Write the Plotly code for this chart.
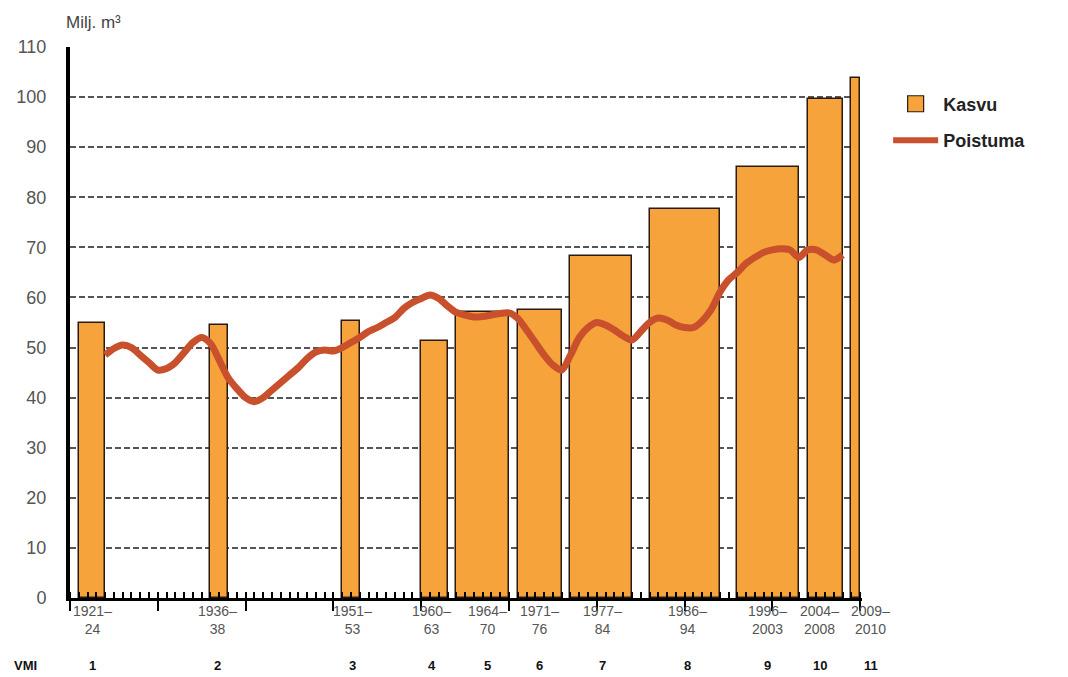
import plotly.graph_objects as go

# Inventory periods (VMI 1-11)
period_start = [1921, 1936, 1951, 1960, 1964, 1971, 1977, 1986, 1996, 2004, 2009]
period_end = [1924, 1938, 1953, 1963, 1970, 1976, 1984, 1994, 2003, 2008, 2010]
period_labels = ["1921–<br>24", "1936–<br>38", "1951–<br>53", "1960–<br>63", "1964–<br>70",
                 "1971–<br>76", "1977–<br>84", "1986–<br>94", "1996–<br>2003", "2004–<br>2008",
                 "2009–<br>2010"]
vmi_labels = ["1", "2", "3", "4", "5", "6", "7", "8", "9", "10", "11"]
label_x = [1922.6, 1936.8, 1952.2, 1961.2, 1967.6, 1973.5, 1980.6, 1990.3, 1999.4, 2005.4, 2011.2]

# Kasvu (increment), million m3
kasvu = [55.0, 54.5, 55.3, 51.3, 57.0, 57.5, 68.3, 77.6, 86.0, 99.6, 103.8]

# Poistuma (drain), million m3, yearly 1924-2008
years = list(range(1924, 2009))
poistuma = [48.5, 49.8, 50.5, 50.0, 48.5, 47.0, 45.5, 45.8, 47.0, 49.0,
            51.0, 52.0, 50.8, 47.5, 44.0, 41.8, 40.0, 39.2, 40.0, 41.5,
            43.0, 44.5, 46.0, 47.8, 49.1, 49.5, 49.3, 50.0, 51.0, 52.0,
            53.2, 54.0, 55.0, 56.0, 57.8, 59.0, 59.8, 60.5, 59.8, 58.3,
            57.0, 56.5, 56.1, 56.2, 56.5, 56.8, 56.9, 55.8, 53.5, 51.0,
            48.5, 46.5, 45.5, 48.5, 52.0, 54.0, 55.0, 54.5, 53.5, 52.3,
            51.5, 53.2, 55.0, 55.9, 55.5, 54.5, 54.0, 54.0, 55.3, 57.5,
            61.0, 63.5, 65.0, 66.8, 68.0, 69.0, 69.5, 69.7, 69.5, 68.0,
            69.5, 69.5, 68.5, 67.5, 68.5]

y_ticks = list(range(0, 111, 10))

FONT = "Liberation Sans, Arial, sans-serif"
BAR_COLOR = "#f7a33b"
BAR_EDGE = "#2b1a10"
LINE_COLOR = "#c8502c"
X_RANGE = [1920, 2010.2]

bar_x = [(s + e) / 2 for s, e in zip(period_start, period_end)]
bar_w = [e - s for s, e in zip(period_start, period_end)]

fig = go.Figure()
fig.add_trace(go.Bar(
    x=bar_x, y=kasvu, width=bar_w, name="Kasvu", showlegend=False,
    marker=dict(color=BAR_COLOR, line=dict(color=BAR_EDGE, width=1.5)),
))
fig.add_trace(go.Scatter(
    x=years, y=poistuma, mode="lines", name="Poistuma", showlegend=False,
    line=dict(color=LINE_COLOR, width=7, shape="spline", smoothing=0.8),
))
# legend entries
fig.add_trace(go.Scatter(
    x=[None], y=[None], mode="markers", name="<b>Kasvu</b>", legendgroup="a",
    marker=dict(symbol="square", size=18, color=BAR_COLOR, line=dict(color=BAR_EDGE, width=1.2)),
))
fig.add_trace(go.Scatter(
    x=[None], y=[None], mode="lines", name="<b>Poistuma</b>", legendgroup="b",
    line=dict(color=LINE_COLOR, width=6),
))


def to_paper(x):
    return (x - X_RANGE[0]) / (X_RANGE[1] - X_RANGE[0])


annotations = []
for lx, lab, v in zip(label_x, period_labels, vmi_labels):
    annotations.append(dict(x=to_paper(lx), xref="paper", xanchor="center", y=0, yref="paper",
                            yanchor="top", yshift=-3, text=lab, showarrow=False, align="center",
                            font=dict(family=FONT, size=14, color="#555")))
    annotations.append(dict(x=to_paper(lx), xref="paper", xanchor="center", y=0, yref="paper",
                            yanchor="middle", yshift=-67, text="<b>" + v + "</b>", showarrow=False,
                            font=dict(family=FONT, size=13, color="#111")))
annotations.append(dict(x=0, xref="paper", xanchor="left", xshift=-58, y=0, yref="paper",
                        yanchor="middle", yshift=-67, text="<b>VMI</b>", showarrow=False,
                        font=dict(family=FONT, size=13, color="#111")))
annotations.append(dict(x=0, xref="paper", xanchor="left", xshift=-6, y=1, yref="paper",
                        yanchor="middle", yshift=25, text="Milj. m³", showarrow=False,
                        font=dict(family=FONT, size=17, color="#444")))

fig.update_layout(
    width=1068, height=677,
    margin=dict(l=70, r=206, t=47, b=79),
    plot_bgcolor="white", paper_bgcolor="white",
    font=dict(family=FONT),
    bargap=0,
    showlegend=True,
    legend=dict(x=1.033, y=0.93, xanchor="left", yanchor="top",
                font=dict(family=FONT, size=18, color="#222"),
                bgcolor="rgba(0,0,0,0)", traceorder="grouped", tracegroupgap=10,
                itemwidth=45),
    annotations=annotations,
    xaxis=dict(range=X_RANGE, showgrid=False, zeroline=False,
               showline=True, linecolor="black", linewidth=3,
               tick0=1920, dtick=10, ticks="outside", ticklen=10, tickwidth=2,
               tickcolor="black", showticklabels=False,
               minor=dict(tick0=1920, dtick=1, ticks="inside", ticklen=6,
                          tickwidth=1.5, tickcolor="black")),
    yaxis=dict(range=[0, 110], tickvals=y_ticks, showgrid=True, gridcolor="#555",
               gridwidth=1.5, griddash="6px,3px", zeroline=False,
               showline=True, linecolor="black", linewidth=4,
               ticks="", ticklabelstandoff=16,
               tickfont=dict(family=FONT, size=18, color="#555")),
)

fig.write_html("out.html", config={"displayModeBar": False},
               post_script="document.body.style.margin='0px';document.body.style.overflow='hidden';")
